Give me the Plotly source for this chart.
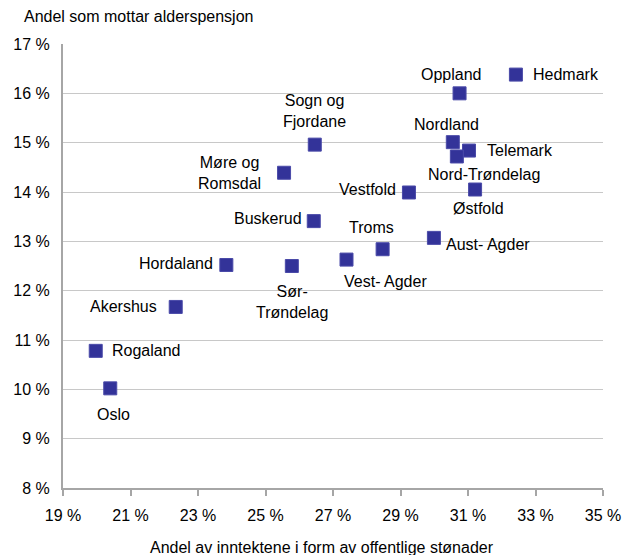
import plotly.graph_objects as go

counties = ["Hedmark", "Oppland", "Nordland", "Telemark", "Nord-Trøndelag", "Østfold",
            "Vestfold", "Aust- Agder", "Troms", "Vest- Agder", "Sogn og<br>Fjordane",
            "Møre og<br>Romsdal", "Buskerud", "Hordaland", "Sør-<br>Trøndelag",
            "Akershus", "Rogaland", "Oslo"]
income_share = [32.42, 30.75, 30.55, 31.03, 30.67, 31.21, 29.25, 29.99, 28.47, 27.40,
                26.46, 25.55, 26.43, 23.84, 25.78, 22.34, 19.97, 20.40]
pension_share = [16.38, 16.00, 15.01, 14.84, 14.72, 14.05, 13.99, 13.07, 12.84, 12.63,
                 14.96, 14.39, 13.41, 12.52, 12.50, 11.67, 10.78, 10.02]
x_ticks = [19, 21, 23, 25, 27, 29, 31, 33, 35]
y_ticks = [8, 9, 10, 11, 12, 13, 14, 15, 16, 17]

# label placement: (xanchor, xshift, yshift)
label_pos = [("left", 15, 0), ("center", -8, 19), ("center", -6, 18), ("left", 16, 0),
             ("center", 27, -18), ("center", 3, -19), ("right", -11, 3), ("left", 10, -7),
             ("center", -11, 22), ("center", 39, -22), ("center", 0, 34), ("right", -21, 0),
             ("right", -10, 3), ("right", -11, 2), ("center", 0, -36), ("right", -17, 0),
             ("left", 14, 0), ("center", 3, -26)]

font_family = "Liberation Sans, Arial, sans-serif"
FS = 16

fig = go.Figure()
fig.add_trace(go.Scatter(
    x=income_share, y=pension_share, mode="markers",
    marker=dict(symbol="square", size=13, color="#333399",
                line=dict(width=1, color="#4a4aa8")),
    hoverinfo="skip", showlegend=False))

for name, xv, yv, (xa, xs, ys) in zip(counties, income_share, pension_share, label_pos):
    fig.add_annotation(x=xv, y=yv, text=name, showarrow=False, xanchor=xa,
                       yanchor="middle", xshift=xs, yshift=ys, align="center",
                       font=dict(size=FS, color="#000000", family=font_family))

fig.add_annotation(xref="paper", yref="paper", x=-0.0758, y=1.061, xanchor="left",
                   yanchor="middle", text="Andel som mottar alderspensjon", showarrow=False,
                   font=dict(size=FS, color="#000000", family=font_family))
fig.add_annotation(xref="paper", yref="paper", x=0.157, y=-0.134, xanchor="left",
                   yanchor="middle", text="Andel av inntektene i form av offentlige stønader",
                   showarrow=False, font=dict(size=FS, color="#000000", family=font_family))

fig.update_layout(
    width=624, height=555,
    margin=dict(l=63, r=21, t=44, b=67),
    paper_bgcolor="white", plot_bgcolor="white",
    font=dict(family=font_family, size=FS, color="#000000"),
    xaxis=dict(range=[19, 35], tickvals=x_ticks, ticktext=[f"{v} %" for v in x_ticks],
               showgrid=False, zeroline=False, showline=True, linecolor="#a6a6a6",
               linewidth=2, ticks="outside", ticklen=6, tickcolor="#a6a6a6",
               tickwidth=2, ticklabelstandoff=6, automargin=False),
    yaxis=dict(range=[8, 17], tickvals=y_ticks, ticktext=[f"{v} %" for v in y_ticks],
               showgrid=True, gridcolor="#c8c8c8", gridwidth=1, zeroline=False,
               showline=True, linecolor="#a6a6a6", linewidth=2, ticks="",
               ticklabelstandoff=8, automargin=False),
)

fig.write_html("out.html", config={"displayModeBar": False},
               post_script="document.body.style.margin='0';")
